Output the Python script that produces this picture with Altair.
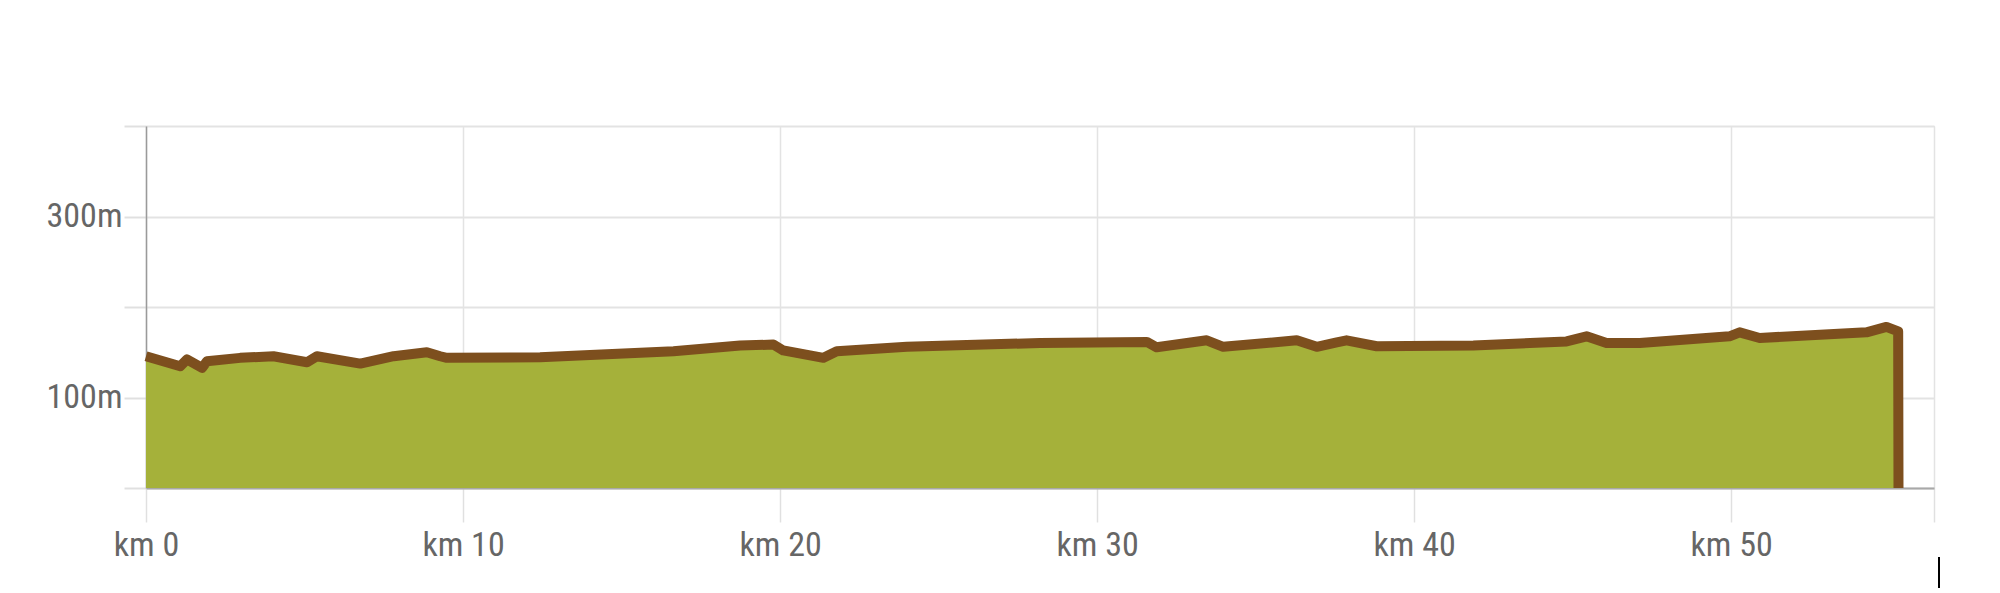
import altair as alt
import pandas as pd

# Distance along the route (km) and elevation (m), read from the profile
km = [0, 1.08, 1.29, 1.77, 1.92, 2.97, 4.02, 5.08, 5.39, 6.76, 7.81, 8.86, 9.28,
      9.49, 12.43, 16.64, 18.74, 19.79, 20.1, 21.37, 21.79, 24.0, 28.2, 31.57,
      31.88, 33.46, 33.98, 36.3, 36.93, 37.56, 37.87, 38.82, 41.87, 44.81, 45.44,
      46.07, 47.12, 49.95, 50.27, 50.9, 54.27, 54.9, 55.27, 55.28]
elev = [145.5, 134.5, 142, 132.7, 140, 143.8, 145.6, 139, 145.6, 137.5, 145.6,
        150, 145.6, 143.8, 144.5, 151, 157.4, 158.5, 152, 143.8, 151, 156, 160.3,
        161.4, 155.5, 163.2, 156, 163.2, 156, 161, 163.2, 156.6, 157.4, 162, 167.6,
        160.3, 160.3, 167.6, 172, 165.8, 172, 178, 173, 0]

x_ticks = [0, 10, 20, 30, 40, 50, 56.4]
y_ticks = [0, 100, 200, 300, 400]

df = pd.DataFrame({"km": km, "elev": elev})

FONT = ("Roboto Condensed, DejaVu Sans Condensed, Liberation Sans Narrow, "
        "Arial Narrow, Liberation Sans, sans-serif")
W, H = 1788, 362

area = alt.Chart(df).mark_area(
    color="#a5b13a",
    opacity=1,
    line={"color": "#7d4f1e", "strokeWidth": 10, "strokeJoin": "round", "strokeCap": "butt"},
).encode(
    x=alt.X("km:Q",
            scale=alt.Scale(domain=[0, 56.4], nice=False, zero=True),
            axis=alt.Axis(values=x_ticks,
                          labelExpr="datum.value > 55 ? '' : 'km ' + datum.value",
                          title=None, grid=True, gridColor="#e3e3e3", gridWidth=1.5,
                          tickColor="#e0e0e0", tickSize=34, tickWidth=1.5,
                          domainColor="#a8a8a8", domainWidth=2,
                          labelFont=FONT, labelFontSize=34,
                          labelColor="#666666", labelPadding=6, labelFlush=False)),
    y=alt.Y("elev:Q", stack=None,
            scale=alt.Scale(domain=[0, 400], nice=False),
            axis=alt.Axis(values=y_ticks,
                          labelExpr="(datum.value == 100 || datum.value == 300) ? datum.value + 'm' : ''",
                          title=None, grid=True, gridColor="#e3e3e3", gridWidth=2,
                          tickColor="#e0e0e0", tickSize=22, tickWidth=2,
                          domainColor="#9a9a9a", domainWidth=1.5,
                          labelFont=FONT, labelFontSize=34,
                          labelColor="#666666", labelPadding=2)),
)

cursor = alt.Chart(df).mark_rule(color="#000000", strokeWidth=2).encode(
    x=alt.value(1793), y=alt.value(431), y2=alt.value(470)
)

chart = alt.layer(area, cursor).properties(
    width=W, height=H,
    autosize=alt.AutoSizeParams(type="none"),
    padding={"left": 138, "top": 118, "right": 40, "bottom": 100},
).configure_view(stroke=None).configure(background="#ffffff")

chart.save("out.html", embed_options={"renderer": "svg", "actions": False})
